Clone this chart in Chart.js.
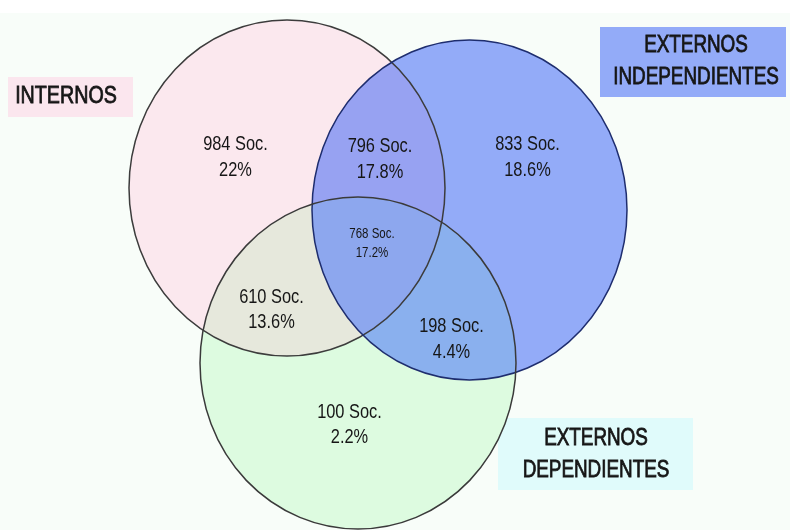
<!DOCTYPE html>
<html>
<head>
<meta charset="utf-8">
<script src="https://cdn.jsdelivr.net/npm/chart.js@4"></script>
<style>
  body { margin: 0; background: #fff; }
  #wrap { width: 790px; height: 530px; }
</style>
</head>
<body>
<div id="wrap"><canvas id="venn"></canvas></div>
<script>
// datos del diagrama
const setNames = [['INTERNOS'], ['EXTERNOS', 'INDEPENDIENTES'], ['EXTERNOS', 'DEPENDIENTES']];
const regionNames = ['Solo internos', 'Internos + ext. indep.', 'Solo ext. indep.', 'Los tres', 'Internos + ext. dep.', 'Ext. indep. + ext. dep.', 'Solo ext. dep.'];
const societies = [984, 796, 833, 768, 610, 198, 100];
const percents = [22, 17.8, 18.6, 17.2, 13.6, 4.4, 2.2];

// layout (unidades de los ejes = px del lienzo)
const circles = [
  { cx: 287, cy: 188, rx: 158, ry: 168, fill: '#fbe8ee', stroke: '#3c3c3c' },
  { cx: 469.5, cy: 210, rx: 157.5, ry: 170, fill: '#93abf8', stroke: '#1e2d6e' },
  { cx: 358, cy: 363, rx: 158, ry: 166, fill: '#ddfbe0', stroke: '#3a3a3a' }
];
const overlapFills = { '01': '#97a2f2', '02': '#e6e8dc', '12': '#8ab0ee', '012': '#8da7ee' };
const labelPos = [[235.5, 157], [380, 159], [527.5, 157], [372, 243.5], [271.5, 310], [451.5, 339], [349.5, 425]];
const labelGap = [26, 26, 26, 19, 25, 26, 25];
const boxes = [
  { x: 8, y: 77, w: 125, h: 40, fill: '#fbe6ee', size: 24, lines: [96] , cx: 66 },
  { x: 600, y: 27, w: 186, h: 70, fill: '#93abf8', size: 23, lines: [45.5, 78], cx: 696 },
  { x: 498, y: 418, w: 195, h: 72, fill: '#e0fbfb', size: 23, lines: [439, 470.5], cx: 596 }
];
const squeeze = 0.82;

function ellipsePath(ctx, c, xs, ys) {
  const px = xs.getPixelForValue(c.cx), py = ys.getPixelForValue(c.cy);
  const rx = Math.abs(xs.getPixelForValue(c.cx + c.rx) - px);
  const ry = Math.abs(ys.getPixelForValue(c.cy + c.ry) - py);
  ctx.beginPath();
  ctx.ellipse(px, py, rx, ry, 0, 0, Math.PI * 2);
}

function narrowText(ctx, txt, x, y, size, heavy) {
  ctx.save();
  ctx.translate(x, y);
  ctx.scale(squeeze, 1);
  ctx.font = size + 'px "Liberation Sans", Arial, sans-serif';
  ctx.textAlign = 'center';
  ctx.textBaseline = 'middle';
  ctx.fillStyle = '#161616';
  ctx.fillText(txt, 0, 0);
  if (heavy) {
    // un poco más grueso, como en el original
    ctx.strokeStyle = '#161616';
    ctx.lineWidth = 0.8;
    ctx.strokeText(txt, 0, 0);
  }
  ctx.restore();
}

const vennPlugin = {
  id: 'venn',
  beforeDraw(chart) {
    const ctx = chart.ctx;
    ctx.save();
    ctx.fillStyle = '#ffffff';
    ctx.fillRect(0, 0, chart.width, chart.height);
    ctx.fillStyle = '#f8fdf9';
    ctx.fillRect(0, 13, chart.width, chart.height - 13);
    ctx.restore();
  },
  beforeDatasetsDraw(chart) {
    const ctx = chart.ctx, xs = chart.scales.x, ys = chart.scales.y;
    ctx.save();
    // cajas de los conjuntos
    boxes.forEach(b => {
      ctx.fillStyle = b.fill;
      ctx.fillRect(xs.getPixelForValue(b.x), ys.getPixelForValue(b.y), b.w, b.h);
    });
    // círculos
    circles.forEach(c => {
      ellipsePath(ctx, c, xs, ys);
      ctx.fillStyle = c.fill;
      ctx.fill();
    });
    // intersecciones
    Object.keys(overlapFills).forEach(k => {
      const idx = k.split('').map(Number);
      ctx.save();
      for (let j = 0; j < idx.length - 1; j++) {
        ellipsePath(ctx, circles[idx[j]], xs, ys);
        ctx.clip();
      }
      ellipsePath(ctx, circles[idx[idx.length - 1]], xs, ys);
      ctx.fillStyle = overlapFills[k];
      ctx.fill();
      ctx.restore();
    });
    circles.forEach(c => {
      ellipsePath(ctx, c, xs, ys);
      ctx.strokeStyle = c.stroke;
      ctx.lineWidth = 1.5;
      ctx.stroke();
    });
    ctx.restore();
  },
  afterDatasetsDraw(chart) {
    const ctx = chart.ctx, xs = chart.scales.x, ys = chart.scales.y;
    const meta = chart.getDatasetMeta(0);
    meta.data.forEach((pt, i) => {
      const size = i === 3 ? 14 : 20;
      const g = labelGap[i] / 2;
      narrowText(ctx, societies[i] + ' Soc.', pt.x, pt.y - g, size, false);
      narrowText(ctx, percents[i] + '%', pt.x, pt.y + g, size, false);
    });
    boxes.forEach((b, i) => {
      setNames[i].forEach((t, j) => {
        narrowText(ctx, t, xs.getPixelForValue(b.cx), ys.getPixelForValue(b.lines[j]), b.size, true);
      });
    });
  }
};

new Chart(document.getElementById('venn'), {
  type: 'scatter',
  data: {
    labels: regionNames,
    datasets: [{
      data: labelPos.map(p => ({ x: p[0], y: p[1] })),
      pointRadius: 0,
      pointHoverRadius: 0
    }]
  },
  options: {
    responsive: true,
    maintainAspectRatio: false,
    animation: false,
    layout: { padding: 0 },
    plugins: { legend: { display: false }, tooltip: { enabled: false } },
    scales: {
      x: { type: 'linear', min: 0, max: 790, display: false },
      y: { type: 'linear', min: 0, max: 530, reverse: true, display: false }
    }
  },
  plugins: [vennPlugin]
});
</script>
</body>
</html>
